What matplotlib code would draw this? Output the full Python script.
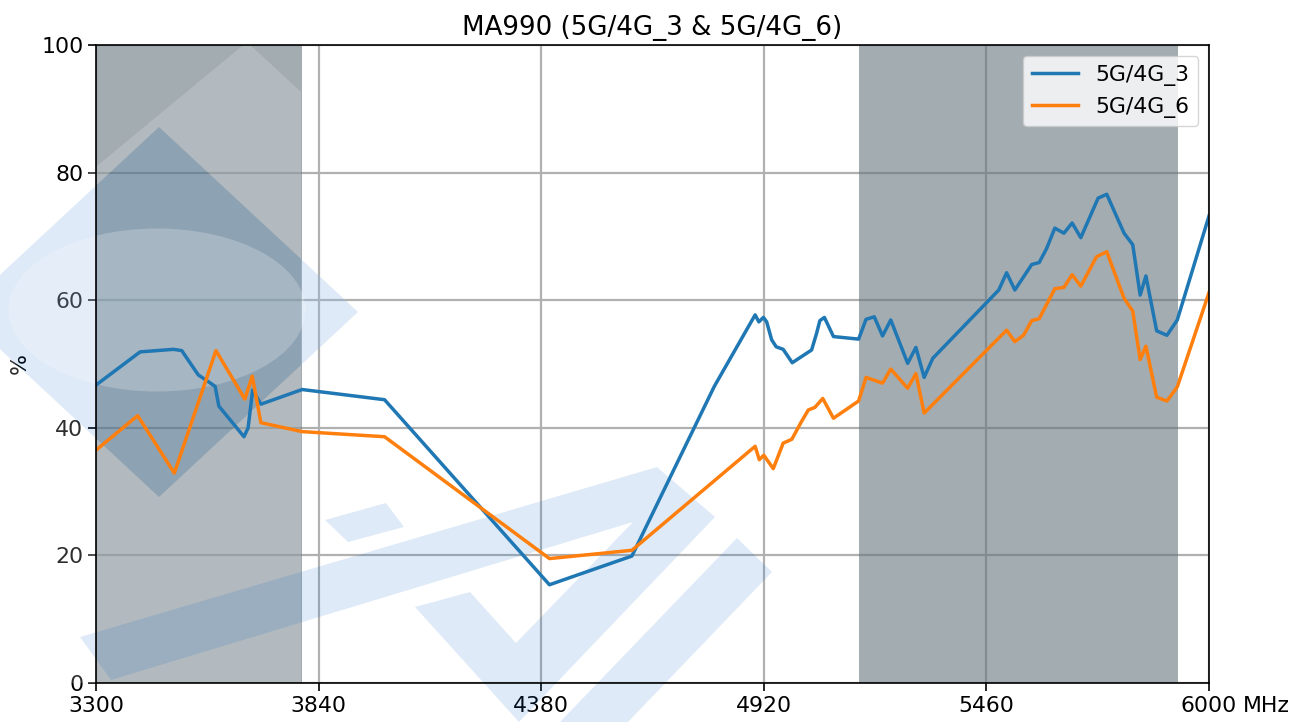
import matplotlib
matplotlib.use("Agg")
import matplotlib.pyplot as plt
from matplotlib.patches import Polygon, Ellipse, PathPatch
from matplotlib.path import Path

# ---- data ----
freq_3 = [3300, 3407, 3488, 3508, 3548, 3589, 3598, 3659, 3669, 3680, 3700, 3800,
          4000, 4400, 4600, 4800, 4899, 4908, 4919, 4927, 4939, 4950, 4967, 4989,
          5036, 5048, 5056, 5067, 5089, 5150, 5168, 5188, 5208, 5228, 5269, 5289,
          5309, 5330, 5490, 5509, 5529, 5570, 5588, 5606, 5626, 5648, 5668, 5689,
          5731, 5752, 5776, 5794, 5815, 5833, 5847, 5873, 5898, 5923, 6000]
eff_3 = [46.7, 51.9, 52.3, 52.1, 48.3, 46.5, 43.4, 38.6, 40.0, 45.9, 43.7, 46.0,
         44.4, 15.4, 19.9, 46.5, 57.7, 56.6, 57.3, 56.6, 53.8, 52.7, 52.3, 50.2,
         52.2, 54.8, 56.8, 57.3, 54.3, 53.9, 57.0, 57.4, 54.4, 56.9, 50.1, 52.6,
         47.9, 50.9, 61.6, 64.3, 61.6, 65.6, 65.9, 68.1, 71.3, 70.5, 72.1, 69.8,
         76.0, 76.6, 73.1, 70.5, 68.7, 60.8, 63.8, 55.2, 54.5, 56.9, 73.2]

freq_6 = [3300, 3401, 3490, 3591, 3661, 3679, 3700, 3800, 4000, 4400, 4600, 4899,
          4909, 4920, 4943, 4967, 4988, 5009, 5028, 5044, 5063, 5089, 5150, 5168,
          5208, 5228, 5269, 5289, 5309, 5509, 5529, 5550, 5570, 5588, 5626, 5648,
          5668, 5689, 5727, 5752, 5776, 5794, 5815, 5833, 5847, 5873, 5898, 5923, 6000]
eff_6 = [36.5, 41.9, 32.9, 52.1, 44.5, 48.1, 40.8, 39.4, 38.6, 19.5, 20.8, 37.1,
         35.0, 35.7, 33.6, 37.6, 38.2, 40.7, 42.8, 43.2, 44.6, 41.5, 44.2, 47.9,
         47.0, 49.2, 46.2, 48.5, 42.3, 55.3, 53.5, 54.5, 56.8, 57.1, 61.8, 62.0,
         64.0, 62.2, 66.8, 67.6, 63.4, 60.3, 58.3, 50.7, 52.8, 44.8, 44.2, 46.4, 61.2]

series_labels = ["5G/4G_3", "5G/4G_6"]
bands = [(3300, 3800), (5150, 5925)]
x_ticks = [3300, 3840, 4380, 4920, 5460, 6000]
x_tick_labels = ["3300", "3840", "4380", "4920", "5460", "6000"]
y_ticks = [0, 20, 40, 60, 80, 100]
title = "MA990 (5G/4G_3 & 5G/4G_6)"

# ---- figure ----
W, H = 1303, 722
fig = plt.figure(figsize=(W / 100, H / 100), dpi=100)
ax = fig.add_axes([96 / W, 1 - 683 / H, (1209 - 96) / W, (683 - 45) / H])


def P(x, y):
    return (x / W, 1 - y / H)


# ---- decorative watermark (figure pixel coordinates) ----
diamond = [(159, 127), (358, 312), (159, 497), (-40, 312)]
outer = [(247, 42), (301, 92), (301, 683), (-150, 683), (-150, 370)]
verts = [P(*p) for p in outer] + [P(*outer[0])] + \
        [P(*p) for p in diamond[::-1]] + [P(*diamond[-1])]
codes = ([Path.MOVETO] + [Path.LINETO] * (len(outer) - 1) + [Path.CLOSEPOLY] +
         [Path.MOVETO] + [Path.LINETO] * (len(diamond) - 1) + [Path.CLOSEPOLY])
ax.add_patch(PathPatch(Path(verts, codes), transform=fig.transFigure,
                       facecolor="white", edgecolor="none", alpha=0.18,
                       clip_on=False, zorder=1.75))

wm_blue = "#0064c8"
blue_shapes = [
    diamond,
    [(80, 637), (657, 467), (715, 517), (519, 722), (415, 607), (470, 592),
     (516, 643), (633, 522), (111, 680)],
    [(325, 520), (386, 503), (404, 527), (348, 542)],
    [(737, 538), (772, 572), (628, 722), (560, 722)],
]
for pts in blue_shapes:
    ax.add_patch(Polygon([P(*p) for p in pts], closed=True,
                         transform=fig.transFigure, facecolor=wm_blue,
                         edgecolor="none", alpha=0.13, clip_on=False,
                         zorder=1.8))
ax.add_patch(Ellipse(P(157, 310), 297 / W, 163 / H, transform=fig.transFigure,
                     facecolor="white", edgecolor="none", alpha=0.22,
                     clip_on=False, zorder=1.85))

# ---- data marks ----
for lo, hi in bands:
    ax.axvspan(lo, hi, color="#66767d", alpha=0.6, lw=0, zorder=1.7)

ax.plot(freq_3, eff_3, color="#1f77b4", lw=2.5, label=series_labels[0], zorder=2.5)
ax.plot(freq_6, eff_6, color="#ff7f0e", lw=2.5, label=series_labels[1], zorder=2.5)

ax.set_xlim(3300, 6000)
ax.set_ylim(0, 100)
ax.set_xticks(x_ticks)
ax.set_xticklabels(x_tick_labels)
ax.set_yticks(y_ticks)
ax.grid(True, color="#b0b0b0", lw=1.6, zorder=1.5)
ax.tick_params(labelsize=15.8, length=5.5, width=1.2, pad=3.5)
for s in ax.spines.values():
    s.set_linewidth(1.2)
ax.set_title(title, fontsize=18.8, pad=7)
ax.set_ylabel("%", fontsize=15.8, labelpad=8)
ax.annotate("MHz", xy=(1, 0), xycoords="axes fraction", xytext=(34, -12.5),
            textcoords="offset pixels", ha="left", va="top", fontsize=15.8)
leg = ax.legend(loc="upper right", fontsize=15.8, handlelength=2.1)
leg.set_zorder(5)

fig.savefig("out.png", dpi=100)
